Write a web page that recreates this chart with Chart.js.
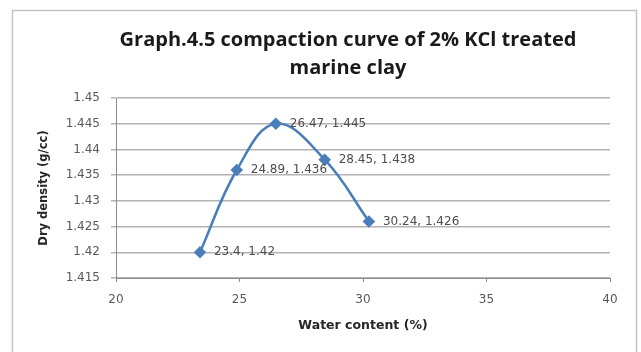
<!DOCTYPE html>
<html>
<head>
<meta charset="utf-8">
<script src="https://cdn.jsdelivr.net/npm/chart.js@4"></script>
<style>
  body { margin: 0; background: #fff; }
  #wrap { width: 641px; height: 352px; }
</style>
</head>
<body>
<div id="wrap"><canvas id="compactionChart" width="641" height="352"></canvas></div>
<script>
const titleLines = ["Graph.4.5 compaction curve of 2% KCl treated", "marine clay"];
const waterContent = [23.4, 24.89, 26.47, 28.45, 30.24];
const dryDensity = [1.42, 1.436, 1.445, 1.438, 1.426];
const pointLabels = ["23.4, 1.42", "24.89, 1.436", "26.47, 1.445", "28.45, 1.438", "30.24, 1.426"];
const xTickValues = [20, 25, 30, 35, 40];
const yTickValues = [1.415, 1.42, 1.425, 1.43, 1.435, 1.44, 1.445, 1.45];
const yTickLabels = ["1.415", "1.42", "1.425", "1.43", "1.435", "1.44", "1.445", "1.45"];

const lineColor = "#4a7ebb";

// white background, outer frame and the two-line title
const framePlugin = {
    id: "frame",
    beforeDraw(chart) {
        const ctx = chart.ctx;
        ctx.save();
        ctx.fillStyle = "#fff";
        ctx.fillRect(0, 0, chart.width, chart.height);
        ctx.strokeStyle = "#c4c4c4";
        ctx.lineWidth = 1.5;
        ctx.strokeRect(12.5, 10.5, 624, 360);
        ctx.fillStyle = "#1a1a1a";
        ctx.font = "bold 20px 'Open Sans'";
        ctx.textAlign = "center";
        ctx.textBaseline = "middle";
        ctx.fillText(titleLines[0], 348, 40);
        ctx.fillText(titleLines[1], 348, 68);
        ctx.restore();
    }
};

// "x, y" labels to the right of each point
const pointLabelPlugin = {
    id: "pointLabels",
    afterDatasetsDraw(chart) {
        const ctx = chart.ctx;
        const meta = chart.getDatasetMeta(0);
        ctx.save();
        ctx.fillStyle = "#4d4d4d";
        ctx.font = "12px 'DejaVu Sans'";
        ctx.textAlign = "left";
        ctx.textBaseline = "middle";
        meta.data.forEach((pt, i) => {
            ctx.fillText(pointLabels[i], pt.x + 14, pt.y);
        });
        ctx.restore();
    }
};

const ctx = document.getElementById("compactionChart").getContext("2d");
new Chart(ctx, {
    type: "scatter",
    data: {
        datasets: [{
            label: "Dry density",
            data: waterContent.map((x, i) => ({ x: x, y: dryDensity[i] })),
            showLine: true,
            tension: 0.4,
            borderColor: lineColor,
            borderWidth: 2.5,
            backgroundColor: lineColor,
            pointStyle: "rectRot",
            pointRadius: 4.5,
            pointHoverRadius: 4.5
        }]
    },
    options: {
        responsive: false,
        animation: false,
        layout: { padding: { left: 12, top: 98, right: 31, bottom: 0 } },
        plugins: {
            legend: { display: false },
            tooltip: { enabled: false },
            title: { display: false }
        },
        scales: {
            x: {
                type: "linear",
                min: 20,
                max: 40,
                afterBuildTicks: scale => { scale.ticks = xTickValues.map(v => ({ value: v })); },
                afterFit: scale => { scale.height = 74; },
                border: { color: "#8c8c8c", width: 1 },
                grid: { drawOnChartArea: false, drawTicks: true, tickLength: 4, color: "#8c8c8c" },
                ticks: { color: "#595959", font: { family: "DejaVu Sans", size: 12 }, padding: 11 },
                title: {
                    display: true,
                    text: "Water content (%)",
                    color: "#262626",
                    font: { family: "DejaVu Sans", size: 12.5, weight: "bold" },
                    padding: { top: 0, bottom: 19 }
                }
            },
            y: {
                min: 1.415,
                max: 1.45,
                afterBuildTicks: scale => { scale.ticks = yTickValues.map(v => ({ value: v })); },
                afterFit: scale => { scale.width = 104; },
                border: { color: "#8c8c8c", width: 1 },
                grid: { color: "#b3b3b3", lineWidth: 1.5, drawTicks: true, tickLength: 5 },
                ticks: {
                    color: "#595959",
                    font: { family: "DejaVu Sans", size: 12 },
                    padding: 11,
                    callback: (v, i) => yTickLabels[i]
                },
                title: {
                    display: true,
                    text: "Dry density (g/cc)",
                    color: "#262626",
                    font: { family: "DejaVu Sans", size: 11.5, weight: "bold" },
                    padding: { top: 25, bottom: 0 }
                }
            }
        }
    },
    plugins: [framePlugin, pointLabelPlugin]
});
</script>
</body>
</html>
